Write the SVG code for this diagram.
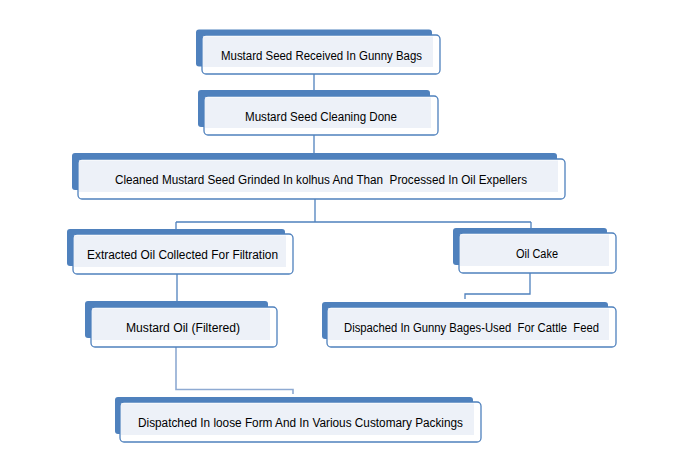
<svg xmlns="http://www.w3.org/2000/svg" width="684" height="473" viewBox="0 0 684 473">
<style>
.back{fill:#4F81BD}
.front{fill:#FFFFFF;stroke:#4F81BD;stroke-width:1.3}
.inner{fill:#EDF1F8}
.t{font-family:"Liberation Sans",Arial,sans-serif;font-size:12.5px;fill:#000;text-anchor:middle;white-space:pre}
.c{fill:none;stroke:#4F81BD;stroke-width:1.3}
.cl{stroke:#8EAAD2;stroke-width:1.6}
</style>
<rect width="684" height="473" fill="#FFFFFF"/>
<g id="connectors">
<path class="c" d="M314,74 V91"/>
<path class="c" d="M314,135 V154"/>
<path class="c" d="M315,199 V222 M176,222 H531 M176,222 V230 M531,222 V229"/>
<path class="c" d="M177,274 V302"/>
<path class="c" d="M530,273 V294 H465 V299"/>
<path class="c cl" d="M176,347 V389.5 H293 V394"/>
</g>
<g id="n1">
<rect class="back" x="196" y="29.5" width="236" height="37" rx="3"/>
<rect class="front" x="202" y="35" width="238" height="39" rx="4"/>
<rect class="inner" x="203" y="36.5" width="230" height="30.5"/>
<text class="t" x="321.5" y="59.5" textLength="201" lengthAdjust="spacingAndGlyphs">Mustard Seed Received In Gunny Bags</text>
</g>
<g id="n2">
<rect class="back" x="198" y="90" width="232" height="37" rx="3"/>
<rect class="front" x="204" y="96" width="234" height="39" rx="4"/>
<rect class="inner" x="205" y="97.5" width="226" height="30.5"/>
<text class="t" x="321" y="120.5" textLength="152" lengthAdjust="spacingAndGlyphs">Mustard Seed Cleaning Done</text>
</g>
<g id="n3">
<rect class="back" x="72" y="153" width="485" height="37" rx="3"/>
<rect class="front" x="78" y="159" width="487" height="40" rx="4"/>
<rect class="inner" x="79" y="160.5" width="479" height="31.5"/>
<text class="t" x="321" y="183.5" textLength="412" lengthAdjust="spacingAndGlyphs">Cleaned Mustard Seed Grinded In kolhus And Than  Processed In Oil Expellers</text>
</g>
<g id="n4">
<rect class="back" x="67" y="229" width="218" height="37" rx="3"/>
<rect class="front" x="73" y="234" width="220" height="40" rx="4"/>
<rect class="inner" x="74" y="235.5" width="212" height="31.5"/>
<text class="t" x="182.5" y="258.5" textLength="191" lengthAdjust="spacingAndGlyphs">Extracted Oil Collected For Filtration</text>
</g>
<g id="n5">
<rect class="back" x="85" y="301" width="183" height="37" rx="3"/>
<rect class="front" x="91" y="307" width="186" height="40" rx="4"/>
<rect class="inner" x="92" y="308.5" width="178" height="31.5"/>
<text class="t" x="183" y="331.5" textLength="114" lengthAdjust="spacingAndGlyphs">Mustard Oil (Filtered)</text>
</g>
<g id="n6">
<rect class="back" x="453" y="228" width="154" height="37" rx="3"/>
<rect class="front" x="459" y="233" width="157" height="40" rx="4"/>
<rect class="inner" x="460" y="234.5" width="149" height="31.5"/>
<text class="t" x="537" y="257.5" textLength="42" lengthAdjust="spacingAndGlyphs">Oil Cake</text>
</g>
<g id="n7">
<rect class="back" x="322" y="302" width="286" height="37" rx="3"/>
<rect class="front" x="327" y="307" width="289" height="40" rx="4"/>
<rect class="inner" x="328" y="308.5" width="281" height="31.5"/>
<text class="t" x="471.5" y="331.5" textLength="255" lengthAdjust="spacingAndGlyphs">Dispached In Gunny Bages-Used  For Cattle  Feed</text>
</g>
<g id="n8">
<rect class="back" x="115" y="397" width="358" height="37" rx="3"/>
<rect class="front" x="120" y="402" width="361" height="40" rx="4"/>
<rect class="inner" x="121" y="403.5" width="353" height="31.5"/>
<text class="t" x="300.5" y="426.5" textLength="325" lengthAdjust="spacingAndGlyphs">Dispatched In loose Form And In Various Customary Packings</text>
</g>
</svg>
